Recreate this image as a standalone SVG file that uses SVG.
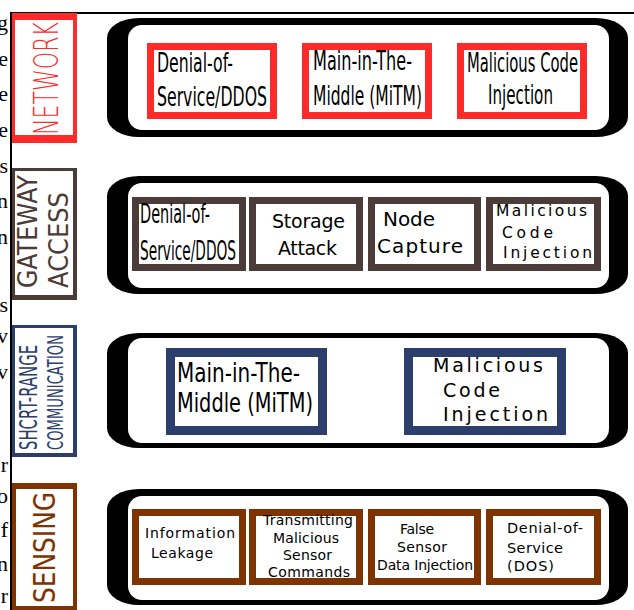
<svg xmlns="http://www.w3.org/2000/svg" width="634" height="610" viewBox="0 0 634 610">
  <style>
    .frag { font-family: "Liberation Serif", serif; font-size: 22px; fill: #000; text-anchor: end; }
    .side { font-family: "DejaVu Sans", sans-serif; font-weight: normal; }
    .thin { font-weight: 300; }
    .cond { font-family: "DejaVu Sans", sans-serif; font-size: 26px; fill: #000; }
    .wide { font-family: "DejaVu Sans", sans-serif; fill: #000; }
    .panel-outer { fill: #000; }
    .panel-inner { fill: #fff; }
    .net { fill: #fff; stroke: #ff2a2a; stroke-width: 7; }
    .gw { fill: #fff; stroke: #4b3b39; stroke-width: 7; }
    .sr { fill: #fff; stroke: #2c3e6b; stroke-width: 9; }
    .sn { fill: #fff; stroke: #7f3300; stroke-width: 7; }
  </style>

  <rect width="634" height="610" fill="#fff"/>

  <!-- cut-off ends of the neighbouring paragraph -->
  <g id="page-text">
    <text class="frag" x="8" y="30">g</text>
    <text class="frag" x="8" y="66">e</text>
    <text class="frag" x="8" y="101">e</text>
    <text class="frag" x="8" y="137">e</text>
    <text class="frag" x="8" y="173">s</text>
    <text class="frag" x="8" y="208">n</text>
    <text class="frag" x="8" y="244">n</text>
    <text class="frag" x="8" y="312">s</text>
    <text class="frag" x="8" y="343">v</text>
    <text class="frag" x="8" y="379">v</text>
    <text class="frag" x="8" y="472">r</text>
    <text class="frag" x="8" y="503">o</text>
    <text class="frag" x="8" y="537">f</text>
    <text class="frag" x="8" y="571">n</text>
    <text class="frag" x="8" y="603">r</text>
  </g>

  <!-- frame lines -->
  <g id="frame" stroke="#000" stroke-width="2" fill="none">
    <line x1="10" y1="13" x2="634" y2="13"/>
    <line x1="11" y1="12" x2="11" y2="610"/>
  </g>

  <!-- layer labels -->
  <g id="label-network">
    <rect x="12" y="13" width="65" height="130" fill="#ff2a2a"/>
    <rect x="15" y="20" width="58" height="115" fill="#fff"/>
    <text class="side thin" transform="translate(58,135) rotate(-90)" font-size="34" fill="#ff2a2a" textLength="113" lengthAdjust="spacingAndGlyphs">NETWORK</text>
  </g>
  <g id="label-gateway">
    <rect x="12" y="168" width="65" height="132" fill="#4b3b39"/>
    <rect x="15" y="171" width="58" height="124" fill="#fff"/>
    <text class="side" transform="translate(37,288) rotate(-90)" font-size="27" fill="#4b3b39" textLength="113" lengthAdjust="spacingAndGlyphs">GATEWAY</text>
    <text class="side" transform="translate(68,288) rotate(-90)" font-size="27" fill="#4b3b39" textLength="96" lengthAdjust="spacingAndGlyphs">ACCESS</text>
  </g>
  <g id="label-short-range">
    <rect x="12" y="325" width="65" height="132" fill="#2c3e6b"/>
    <rect x="15" y="328" width="58" height="125" fill="#fff"/>
    <text class="side" transform="translate(37,450) rotate(-90)" font-size="24" fill="#2c3e6b" textLength="105" lengthAdjust="spacingAndGlyphs">SHCRT-RANGE</text>
    <text class="side" transform="translate(63,450) rotate(-90)" font-size="22" fill="#2c3e6b" textLength="115" lengthAdjust="spacingAndGlyphs">COMMUNICATION</text>
  </g>
  <g id="label-sensing">
    <rect x="12" y="483" width="65" height="127" fill="#7f3300"/>
    <rect x="16" y="489" width="57" height="117" fill="#fff"/>
    <text class="side" transform="translate(55,603) rotate(-90)" font-size="30" fill="#7f3300" textLength="111" lengthAdjust="spacingAndGlyphs">SENSING</text>
  </g>

  <!-- layer panels -->
  <g id="panel-network">
    <rect class="panel-outer" x="107" y="18" width="521" height="119" rx="32" ry="20"/>
    <rect class="panel-inner" x="128" y="25" width="481" height="105" rx="14"/>
  </g>
  <g id="panel-gateway">
    <rect class="panel-outer" x="107" y="176" width="521" height="118" rx="32" ry="20"/>
    <rect class="panel-inner" x="128" y="183" width="481" height="105" rx="14"/>
  </g>
  <g id="panel-short-range">
    <rect class="panel-outer" x="107" y="333" width="521" height="115" rx="32" ry="20"/>
    <rect class="panel-inner" x="128" y="338" width="481" height="105" rx="14"/>
  </g>
  <g id="panel-sensing">
    <rect class="panel-outer" x="107" y="489" width="521" height="116" rx="32" ry="20"/>
    <rect class="panel-inner" x="128" y="496" width="481" height="104" rx="14"/>
  </g>

  <!-- network threats -->
  <g id="net-ddos">
    <rect class="net" x="150.5" y="46.5" width="123" height="69"/>
    <text class="cond" x="157" y="72" textLength="76" lengthAdjust="spacingAndGlyphs">Denial-of-</text>
    <text class="cond" x="157" y="106" textLength="110" lengthAdjust="spacingAndGlyphs">Service/DDOS</text>
  </g>
  <g id="net-mitm">
    <rect class="net" x="305.5" y="46.5" width="123" height="69"/>
    <text class="cond" x="313" y="70" textLength="99" lengthAdjust="spacingAndGlyphs">Main-in-The-</text>
    <text class="cond" x="313" y="105" textLength="109" lengthAdjust="spacingAndGlyphs">Middle (MiTM)</text>
  </g>
  <g id="net-code">
    <rect class="net" x="460.5" y="46.5" width="123" height="69"/>
    <text class="cond" x="467" y="72" textLength="111" lengthAdjust="spacingAndGlyphs">Malicious Code</text>
    <text class="cond" x="488" y="104" textLength="65" lengthAdjust="spacingAndGlyphs">Injection</text>
  </g>

  <!-- gateway threats -->
  <g id="gw-ddos">
    <rect class="gw" x="135.5" y="200.5" width="107" height="67"/>
    <text class="cond" x="140" y="223" textLength="70" lengthAdjust="spacingAndGlyphs">Denial-of-</text>
    <text class="cond" x="140" y="260" textLength="96" lengthAdjust="spacingAndGlyphs">Service/DDOS</text>
  </g>
  <g id="gw-storage">
    <rect class="gw" x="252.5" y="200.5" width="107" height="67"/>
    <text class="wide" x="272" y="228" font-size="19" textLength="73">Storage</text>
    <text class="wide" x="278" y="255" font-size="19" textLength="59">Attack</text>
  </g>
  <g id="gw-capture">
    <rect class="gw" x="371.5" y="200.5" width="106" height="67"/>
    <text class="wide" x="383" y="226" font-size="20" textLength="52">Node</text>
    <text class="wide" x="377" y="253" font-size="20" textLength="86">Capture</text>
  </g>
  <g id="gw-code">
    <rect class="gw" x="489.5" y="200.5" width="108" height="67"/>
    <text class="wide" x="496" y="216" font-size="15.5" textLength="91">Malicious</text>
    <text class="wide" x="502" y="238" font-size="15.5" textLength="51">Code</text>
    <text class="wide" x="503" y="258" font-size="15.5" textLength="89">Injection</text>
  </g>

  <!-- short-range threats -->
  <g id="sr-mitm">
    <rect class="sr" x="170.5" y="352.5" width="152" height="78"/>
    <text class="cond" x="177" y="382" textLength="123" lengthAdjust="spacingAndGlyphs">Main-in-The-</text>
    <text class="cond" x="177" y="412" textLength="136" lengthAdjust="spacingAndGlyphs">Middle (MiTM)</text>
  </g>
  <g id="sr-code">
    <rect class="sr" x="408.5" y="352.5" width="153" height="78"/>
    <text class="wide" x="433" y="372" font-size="19" textLength="110">Malicious</text>
    <text class="wide" x="443" y="397" font-size="19" textLength="57">Code</text>
    <text class="wide" x="443" y="421" font-size="19" textLength="105">Injection</text>
  </g>

  <!-- sensing threats -->
  <g id="sn-leak">
    <rect class="sn" x="135.5" y="512.5" width="107" height="69"/>
    <text class="wide" x="145" y="538" font-size="14" textLength="90">Information</text>
    <text class="wide" x="151" y="558" font-size="14" textLength="62">Leakage</text>
  </g>
  <g id="sn-commands">
    <rect class="sn" x="252.5" y="512.5" width="107" height="69"/>
    <text class="wide" x="263" y="525" font-size="14" textLength="90">Transmitting</text>
    <text class="wide" x="273" y="543" font-size="14" textLength="66">Malicious</text>
    <text class="wide" x="283" y="560" font-size="14" textLength="49">Sensor</text>
    <text class="wide" x="268" y="577" font-size="14" textLength="82">Commands</text>
  </g>
  <g id="sn-false-data">
    <rect class="sn" x="371.5" y="512.5" width="106" height="69"/>
    <text class="wide" x="400" y="534" font-size="14" textLength="34">False</text>
    <text class="wide" x="397" y="552" font-size="14" textLength="50">Sensor</text>
    <text class="wide" x="377" y="570" font-size="14" textLength="96">Data Injection</text>
  </g>
  <g id="sn-dos">
    <rect class="sn" x="489.5" y="512.5" width="108" height="69"/>
    <text class="wide" x="507" y="533" font-size="14.5" textLength="76">Denial-of-</text>
    <text class="wide" x="507" y="553" font-size="14.5" textLength="56">Service</text>
    <text class="wide" x="507" y="571" font-size="14.5" textLength="47">(DOS)</text>
  </g>
</svg>
